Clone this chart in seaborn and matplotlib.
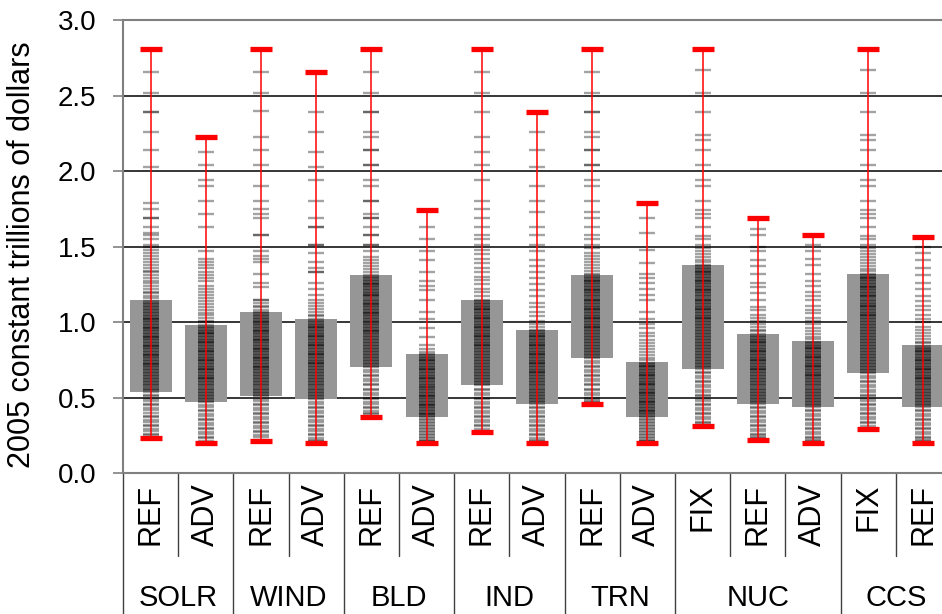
import numpy as np
import pandas as pd
import matplotlib
matplotlib.use("Agg")
import matplotlib.pyplot as plt
import matplotlib.transforms as mtransforms
import seaborn as sns

# ---------------- data ----------------
scenarios = ["REF", "ADV", "REF", "ADV", "REF", "ADV", "REF", "ADV", "REF", "ADV",
             "FIX", "REF", "ADV", "FIX", "REF"]
groups = ["SOLR", "SOLR", "WIND", "WIND", "BLD", "BLD", "IND", "IND", "TRN", "TRN",
          "NUC", "NUC", "NUC", "CCS", "CCS"]
q1 = [0.54, 0.47, 0.51, 0.49, 0.70, 0.37, 0.58, 0.46, 0.76, 0.37, 0.69, 0.46, 0.435, 0.66, 0.435]
q3 = [1.15, 0.98, 1.07, 1.02, 1.31, 0.79, 1.15, 0.95, 1.31, 0.735, 1.38, 0.92, 0.875, 1.32, 0.846]
mins = [0.23, 0.20, 0.21, 0.20, 0.37, 0.20, 0.27, 0.20, 0.46, 0.20, 0.31, 0.22, 0.20, 0.29, 0.20]
maxs = [2.81, 2.225, 2.81, 2.66, 2.81, 1.745, 2.81, 2.39, 2.81, 1.79, 2.81, 1.69, 1.575, 2.81, 1.567]

solr_ref = [2.66, 2.52, 2.39, 2.39, 2.26, 2.14, 2.03, 1.79, 1.75, 1.69, 1.69, 1.63, 1.59, 1.58, 1.55, 1.51, 1.50, 1.48,
            1.46, 1.44, 1.42, 1.40, 1.38, 1.36, 1.34, 1.33, 1.31, 1.29, 1.27, 1.26, 1.24, 1.22, 1.20, 1.19, 1.17, 1.16,
            1.14, 1.13, 1.12, 1.11, 1.10, 1.09, 1.08, 1.07, 1.06, 1.05, 1.04, 1.03, 1.02, 1.02, 1.01, 1.00, 0.99, 0.98,
            0.97, 0.96, 0.96, 0.95, 0.94, 0.93, 0.92, 0.91, 0.90, 0.90, 0.89, 0.88, 0.87, 0.86, 0.85, 0.84, 0.84, 0.83,
            0.82, 0.81, 0.80, 0.79, 0.78, 0.78, 0.77, 0.76, 0.75, 0.74, 0.73, 0.72, 0.72, 0.71, 0.70, 0.69, 0.68, 0.67,
            0.66, 0.65, 0.64, 0.63, 0.62, 0.61, 0.60, 0.59, 0.58, 0.57, 0.56, 0.55, 0.54, 0.52, 0.51, 0.49, 0.48, 0.46,
            0.45, 0.43, 0.42, 0.40, 0.38, 0.37, 0.35, 0.34, 0.32, 0.31, 0.29, 0.28, 0.26, 0.25]
solr_adv = [2.13, 2.04, 1.94, 1.90, 1.80, 1.72, 1.63, 1.47, 1.42, 1.40, 1.38, 1.36, 1.33, 1.31, 1.29, 1.27, 1.24, 1.22,
            1.20, 1.18, 1.16, 1.14, 1.12, 1.10, 1.08, 1.06, 1.05, 1.03, 1.01, 1.00,
            0.98, 0.97, 0.96, 0.95, 0.94, 0.93, 0.93, 0.92, 0.91, 0.90, 0.89, 0.88, 0.87, 0.87, 0.86, 0.85, 0.84, 0.83,
            0.82, 0.81, 0.81, 0.80, 0.79, 0.78, 0.77, 0.76, 0.75, 0.75, 0.74, 0.73, 0.72, 0.71, 0.70, 0.69, 0.69, 0.68,
            0.67, 0.66, 0.65, 0.64, 0.63, 0.63, 0.62, 0.61, 0.60, 0.59, 0.58, 0.57, 0.56, 0.55, 0.54, 0.53, 0.52, 0.51,
            0.50, 0.49, 0.48, 0.47,
            0.45, 0.44, 0.42, 0.41, 0.39, 0.38, 0.36, 0.35, 0.33, 0.32, 0.30, 0.29, 0.27, 0.26, 0.24, 0.23, 0.21]
wind_ref = [2.66, 2.52, 2.40, 2.23, 2.14, 2.04, 1.90, 1.80, 1.75, 1.72, 1.69, 1.58, 1.58, 1.47, 1.44, 1.42, 1.40, 1.32,
            1.26, 1.23, 1.15, 1.15, 1.13, 1.11, 1.10, 1.08,
            1.07, 1.06, 1.05, 1.04, 1.03, 1.02, 1.01, 1.00, 1.00, 0.99, 0.98, 0.97, 0.96, 0.95, 0.94, 0.94, 0.93, 0.92,
            0.91, 0.90, 0.89, 0.88, 0.88, 0.87, 0.86, 0.85, 0.84, 0.83, 0.82, 0.82, 0.81, 0.80, 0.79, 0.78, 0.77, 0.76,
            0.76, 0.75, 0.74, 0.73, 0.72, 0.71, 0.70, 0.70, 0.69, 0.68, 0.67, 0.66, 0.65, 0.64, 0.63, 0.62, 0.61, 0.60,
            0.59, 0.58, 0.57, 0.56, 0.55, 0.54, 0.53, 0.52, 0.51,
            0.49, 0.48, 0.46, 0.45, 0.43, 0.42, 0.40, 0.39, 0.37, 0.36, 0.34, 0.33, 0.31, 0.30, 0.28, 0.27, 0.25, 0.24, 0.22]
wind_adv = [2.39, 2.26, 2.13, 2.03, 1.94, 1.80, 1.69, 1.63, 1.63, 1.51, 1.51, 1.46, 1.40, 1.36, 1.33, 1.33, 1.26, 1.22,
            1.18, 1.15, 1.13, 1.11, 1.09, 1.07, 1.05, 1.04,
            1.02, 1.01, 1.00, 0.99, 0.98, 0.97, 0.97, 0.96, 0.95, 0.94, 0.93, 0.92, 0.91, 0.91, 0.90, 0.89, 0.88, 0.87,
            0.86, 0.85, 0.85, 0.84, 0.83, 0.82, 0.81, 0.80, 0.79, 0.79, 0.78, 0.77, 0.76, 0.75, 0.74, 0.73, 0.73, 0.72,
            0.71, 0.70, 0.69, 0.68, 0.67, 0.66, 0.65, 0.64, 0.63, 0.62, 0.61, 0.60, 0.59, 0.58, 0.57, 0.56, 0.55, 0.54,
            0.53, 0.52, 0.51, 0.50, 0.49,
            0.47, 0.46, 0.44, 0.43, 0.41, 0.40, 0.38, 0.37, 0.35, 0.34, 0.32, 0.31, 0.29, 0.28, 0.26, 0.25, 0.23, 0.22, 0.21]
bld_ref = [2.66, 2.52, 2.39, 2.39, 2.26, 2.23, 2.14, 2.14, 2.04, 2.04, 1.94, 1.90, 1.80, 1.80, 1.72, 1.69, 1.69, 1.63,
           1.58, 1.58, 1.51, 1.51, 1.47, 1.43, 1.41, 1.39, 1.37, 1.35, 1.33,
           1.31, 1.30, 1.29, 1.28, 1.27, 1.26, 1.25, 1.25, 1.24, 1.23, 1.22, 1.21, 1.20, 1.19, 1.18, 1.18, 1.17, 1.16,
           1.15, 1.14, 1.13, 1.12, 1.12, 1.11, 1.10, 1.09, 1.08, 1.07, 1.06, 1.06, 1.05, 1.04, 1.03, 1.02, 1.01, 1.00,
           1.00, 0.99, 0.98, 0.97, 0.96, 0.95, 0.94, 0.94, 0.93, 0.92, 0.91, 0.90, 0.89, 0.88, 0.87, 0.86, 0.85, 0.84,
           0.83, 0.82, 0.81, 0.80, 0.79, 0.78, 0.77, 0.76, 0.75, 0.74, 0.73, 0.72, 0.71, 0.70,
           0.68, 0.67, 0.65, 0.64, 0.62, 0.61, 0.59, 0.58, 0.56, 0.55, 0.53, 0.52, 0.50, 0.49, 0.47, 0.46, 0.44, 0.43,
           0.41, 0.40, 0.39]
bld_adv = [1.63, 1.55, 1.47, 1.41, 1.33, 1.27, 1.24, 1.21, 1.15, 1.07, 1.02, 0.96, 0.90, 0.85, 0.82, 0.80,
           0.79, 0.78, 0.77, 0.76, 0.75, 0.75, 0.74, 0.73, 0.72, 0.71, 0.70, 0.69, 0.69, 0.68, 0.67, 0.66, 0.65, 0.64,
           0.63, 0.63, 0.62, 0.61, 0.60, 0.59, 0.58, 0.57, 0.57, 0.56, 0.55, 0.54, 0.53, 0.52, 0.51, 0.51, 0.50, 0.49,
           0.48, 0.47, 0.46, 0.45, 0.45, 0.44, 0.43, 0.42, 0.41, 0.40, 0.39, 0.39, 0.38, 0.37,
           0.36, 0.35, 0.34, 0.33, 0.32, 0.31, 0.30, 0.29, 0.28, 0.27, 0.26, 0.25, 0.24, 0.23, 0.22, 0.21, 0.21]
ind_ref = [2.66, 2.52, 2.39, 2.23, 2.13, 2.04, 1.94, 1.80, 1.75, 1.69, 1.63, 1.58, 1.55, 1.51, 1.48, 1.45, 1.42, 1.39,
           1.36, 1.33, 1.30, 1.28, 1.25, 1.22, 1.20, 1.17,
           1.15, 1.14, 1.13, 1.12, 1.11, 1.10, 1.09, 1.09, 1.08, 1.07, 1.06, 1.05, 1.04, 1.03, 1.03, 1.02, 1.01, 1.00,
           0.99, 0.98, 0.97, 0.97, 0.96, 0.95, 0.94, 0.93, 0.92, 0.91, 0.91, 0.90, 0.89, 0.88, 0.87, 0.86, 0.85, 0.85,
           0.84, 0.83, 0.82, 0.81, 0.80, 0.79, 0.78, 0.77, 0.76, 0.75, 0.74, 0.73, 0.72, 0.71, 0.70, 0.69, 0.68, 0.67,
           0.66, 0.65, 0.64, 0.63, 0.62, 0.61, 0.60, 0.59, 0.58,
           0.56, 0.55, 0.53, 0.52, 0.50, 0.49, 0.47, 0.46, 0.44, 0.43, 0.41, 0.40, 0.38, 0.37, 0.35, 0.34, 0.32, 0.31,
           0.29, 0.28]
ind_adv = [2.26, 2.14, 2.03, 1.90, 1.80, 1.73, 1.63, 1.58, 1.51, 1.47, 1.41, 1.37, 1.33, 1.29, 1.25, 1.21, 1.17, 1.13,
           1.10, 1.07, 1.04, 1.01, 0.99, 0.97,
           0.95, 0.94, 0.93, 0.92, 0.91, 0.91, 0.90, 0.89, 0.88, 0.87, 0.86, 0.85, 0.85, 0.84, 0.83, 0.82, 0.81, 0.80,
           0.79, 0.79, 0.78, 0.77, 0.76, 0.75, 0.74, 0.73, 0.73, 0.72, 0.71, 0.70, 0.69, 0.68, 0.67, 0.67, 0.66, 0.65,
           0.64, 0.63, 0.62, 0.61, 0.60, 0.59, 0.58, 0.57, 0.56, 0.55, 0.54, 0.53, 0.52, 0.51, 0.50, 0.49, 0.48, 0.47,
           0.46,
           0.44, 0.43, 0.41, 0.40, 0.38, 0.37, 0.35, 0.34, 0.32, 0.31, 0.29, 0.28, 0.26, 0.25, 0.23, 0.22, 0.21]
trn_ref = [2.66, 2.52, 2.39, 2.39, 2.26, 2.23, 2.14, 2.14, 2.04, 2.04, 1.94, 1.90, 1.80, 1.73, 1.69, 1.63, 1.58, 1.55,
           1.51, 1.49, 1.46, 1.44, 1.42, 1.40, 1.38, 1.36, 1.34, 1.32,
           1.31, 1.30, 1.29, 1.28, 1.27, 1.27, 1.26, 1.25, 1.24, 1.23, 1.22, 1.21, 1.21, 1.20, 1.19, 1.18, 1.17, 1.16,
           1.15, 1.15, 1.14, 1.13, 1.12, 1.11, 1.10, 1.09, 1.09, 1.08, 1.07, 1.06, 1.05, 1.04, 1.03, 1.03, 1.02, 1.01,
           1.00, 0.99, 0.98, 0.97, 0.97, 0.96, 0.95, 0.94, 0.93, 0.92, 0.91, 0.90, 0.89, 0.88, 0.87, 0.86, 0.85, 0.84,
           0.83, 0.82, 0.81, 0.80, 0.79, 0.78, 0.77, 0.76,
           0.74, 0.73, 0.71, 0.70, 0.68, 0.67, 0.65, 0.64, 0.62, 0.61, 0.59, 0.58, 0.56, 0.55, 0.53, 0.52, 0.50, 0.49,
           0.48, 0.47]
trn_adv = [1.69, 1.59, 1.48, 1.39, 1.32, 1.29, 1.26, 1.22, 1.18, 1.15, 1.07, 1.02, 0.99, 0.96, 0.93, 0.91, 0.88, 0.86,
           0.84, 0.82, 0.80, 0.78, 0.76, 0.75,
           0.73, 0.72, 0.71, 0.71, 0.70, 0.69, 0.68, 0.67, 0.66, 0.65, 0.65, 0.64, 0.63, 0.62, 0.61, 0.60, 0.59, 0.59,
           0.58, 0.57, 0.56, 0.55, 0.54, 0.53, 0.53, 0.52, 0.51, 0.50, 0.49, 0.48, 0.47, 0.47, 0.46, 0.45, 0.44, 0.43,
           0.42, 0.41, 0.41, 0.40, 0.39, 0.38, 0.37,
           0.36, 0.35, 0.34, 0.33, 0.32, 0.31, 0.30, 0.29, 0.28, 0.27, 0.26, 0.25, 0.24, 0.23, 0.22, 0.21, 0.21]
nuc_fix = [2.67, 2.52, 2.39, 2.24, 2.21, 2.14, 2.04, 1.94, 1.90, 1.80, 1.74, 1.72, 1.69, 1.63, 1.57, 1.55, 1.51, 1.49,
           1.47, 1.45, 1.43, 1.41, 1.40,
           1.38, 1.37, 1.36, 1.35, 1.34, 1.33, 1.33, 1.32, 1.31, 1.30, 1.29, 1.28, 1.27, 1.27, 1.26, 1.25, 1.24, 1.23,
           1.22, 1.21, 1.21, 1.20, 1.19, 1.18, 1.17, 1.16, 1.15, 1.15, 1.14, 1.13, 1.12, 1.11, 1.10, 1.09, 1.09, 1.08,
           1.07, 1.06, 1.05, 1.04, 1.03, 1.03, 1.02, 1.01, 1.00, 0.99, 0.98, 0.97, 0.96, 0.95, 0.94, 0.93, 0.92, 0.91,
           0.90, 0.89, 0.88, 0.87, 0.86, 0.85, 0.84, 0.83, 0.82, 0.81, 0.80, 0.79, 0.78, 0.77, 0.76, 0.75, 0.74, 0.73,
           0.72, 0.71, 0.70, 0.69,
           0.67, 0.66, 0.64, 0.63, 0.61, 0.60, 0.58, 0.57, 0.55, 0.54, 0.52, 0.51, 0.49, 0.48, 0.46, 0.45, 0.43, 0.42,
           0.40, 0.39, 0.37, 0.36, 0.34, 0.33, 0.32]
nuc_ref = [1.62, 1.58, 1.50, 1.47, 1.41, 1.37, 1.32, 1.26, 1.23, 1.19, 1.15, 1.10, 1.08, 1.05, 1.03, 1.01, 0.99, 0.97,
           0.95, 0.94,
           0.92, 0.91, 0.90, 0.89, 0.88, 0.87, 0.87, 0.86, 0.85, 0.84, 0.83, 0.82, 0.81, 0.81, 0.80, 0.79, 0.78, 0.77,
           0.76, 0.75, 0.75, 0.74, 0.73, 0.72, 0.71, 0.70, 0.69, 0.69, 0.68, 0.67, 0.66, 0.65, 0.64, 0.63, 0.62, 0.61,
           0.60, 0.59, 0.58, 0.57, 0.56, 0.55, 0.54, 0.53, 0.52, 0.51, 0.50, 0.49, 0.48, 0.47, 0.46,
           0.44, 0.43, 0.41, 0.40, 0.38, 0.37, 0.35, 0.34, 0.32, 0.31, 0.29, 0.28, 0.26, 0.25, 0.24, 0.23]
nuc_adv = [1.51, 1.47, 1.42, 1.38, 1.32, 1.27, 1.24, 1.20, 1.17, 1.15, 1.11, 1.08, 1.06, 1.03, 1.01, 0.99, 0.96, 0.94,
           0.92, 0.90, 0.89,
           0.87, 0.86, 0.85, 0.84, 0.83, 0.83, 0.82, 0.81, 0.80, 0.79, 0.78, 0.77, 0.77, 0.76, 0.75, 0.74, 0.73, 0.72,
           0.71, 0.71, 0.70, 0.69, 0.68, 0.67, 0.66, 0.65, 0.65, 0.64, 0.63, 0.62, 0.61, 0.60, 0.59, 0.58, 0.57, 0.56,
           0.55, 0.54, 0.53, 0.52, 0.51, 0.50, 0.49, 0.48, 0.47, 0.46, 0.45, 0.44,
           0.42, 0.41, 0.39, 0.38, 0.36, 0.35, 0.33, 0.32, 0.30, 0.29, 0.27, 0.26, 0.24, 0.23, 0.22, 0.21]
ccs_fix = [2.67, 2.52, 2.39, 2.24, 2.21, 2.14, 2.04, 1.94, 1.90, 1.80, 1.74, 1.72, 1.69, 1.63, 1.57, 1.55, 1.51, 1.49,
           1.47, 1.45, 1.43, 1.41, 1.39, 1.37, 1.35, 1.34,
           1.32, 1.31, 1.30, 1.29, 1.29, 1.28, 1.27, 1.26, 1.25, 1.24, 1.23, 1.23, 1.22, 1.21, 1.20, 1.19, 1.18, 1.17,
           1.17, 1.16, 1.15, 1.14, 1.13, 1.12, 1.11, 1.11, 1.10, 1.09, 1.08, 1.07, 1.06, 1.05, 1.05, 1.04, 1.03, 1.02,
           1.01, 1.00, 0.99, 0.98, 0.97, 0.96, 0.95, 0.94, 0.93, 0.92, 0.91, 0.90, 0.89, 0.88, 0.87, 0.86, 0.85, 0.84,
           0.83, 0.82, 0.81, 0.80, 0.79, 0.78, 0.77, 0.76, 0.75, 0.74, 0.73, 0.72, 0.71, 0.70, 0.69, 0.68, 0.67, 0.66,
           0.64, 0.63, 0.61, 0.60, 0.58, 0.57, 0.55, 0.54, 0.52, 0.51, 0.49, 0.48, 0.46, 0.45, 0.43, 0.42, 0.40, 0.39,
           0.37, 0.36, 0.34, 0.33, 0.31, 0.30]
ccs_ref = [1.50, 1.46, 1.41, 1.36, 1.31, 1.26, 1.22, 1.17, 1.14, 1.11, 1.08, 1.05, 1.02, 1.00, 0.97, 0.95, 0.93, 0.91,
           0.89, 0.87, 0.86,
           0.84, 0.83, 0.82, 0.81, 0.81, 0.80, 0.79, 0.78, 0.77, 0.76, 0.75, 0.75, 0.74, 0.73, 0.72, 0.71, 0.70, 0.69,
           0.69, 0.68, 0.67, 0.66, 0.65, 0.64, 0.63, 0.63, 0.62, 0.61, 0.60, 0.59, 0.58, 0.57, 0.56, 0.55, 0.54, 0.53,
           0.52, 0.51, 0.50, 0.49, 0.48, 0.47, 0.46, 0.45, 0.44,
           0.42, 0.41, 0.39, 0.38, 0.36, 0.35, 0.33, 0.32, 0.30, 0.29, 0.27, 0.26, 0.24, 0.23, 0.22, 0.21]

draws = [solr_ref, solr_adv, wind_ref, wind_adv, bld_ref, bld_adv, ind_ref, ind_adv,
         trn_ref, trn_adv, nuc_fix, nuc_ref, nuc_adv, ccs_fix, ccs_ref]
yticks = [0.0, 0.5, 1.0, 1.5, 2.0, 2.5, 3.0]
ylabel = "2005 constant trillions of dollars"

# ---------------- style ----------------
sns.set_style("white")
plt.rcParams["font.family"] = ["Liberation Sans", "DejaVu Sans"]
plt.rcParams["text.color"] = "black"
plt.rcParams["ytick.color"] = "black"

W, H = 942, 614
fig = plt.figure(figsize=(W / 100, H / 100), dpi=100)
ax_left, ax_bottom, ax_w, ax_h = 123, 141, 828, 452.6
ax = fig.add_axes([ax_left / W, ax_bottom / H, ax_w / W, ax_h / H])

n = len(scenarios)
pos = np.arange(n)

# IQR boxes
ax.bar(pos, np.array(q3) - np.array(q1), bottom=q1, width=0.76, color="#969696",
       edgecolor="none", zorder=1)

# individual draws as dashes
df = pd.DataFrame({
    "pos": np.concatenate([[i] * len(d) for i, d in enumerate(draws)]),
    "value": np.concatenate(draws),
})
sns.scatterplot(data=df, x="pos", y="value", marker="_", s=135, color="black",
                alpha=0.36, linewidth=1.7, ax=ax, legend=False, zorder=2)

# red range lines and caps
ax.vlines(pos, mins, maxs, color="#ff0000", lw=1.1, zorder=3)
ax.hlines(mins, pos - 0.2, pos + 0.2, color="#ff0000", lw=3.8, zorder=4)
ax.hlines(maxs, pos - 0.2, pos + 0.2, color="#ff0000", lw=3.8, zorder=4)

# grid
for yv in yticks[1:-1]:
    ax.axhline(yv, color="#000000", lw=1.1, zorder=0.5)

ax.set_xlim(-0.5, n - 0.5)
ax.set_ylim(0, 3.0)
ax.set_yticks(yticks)
ax.set_yticklabels([f"{v:.1f}" for v in yticks])
ax.set_xticks([])
ax.set_xlabel("")
ax.set_ylabel("")
ax.tick_params(axis="y", length=7, width=1.2, color="#808080", labelcolor="black",
               labelsize=20, pad=12, direction="out", left=True)
for side in ["left", "bottom", "top"]:
    ax.spines[side].set_color("#808080")
    ax.spines[side].set_linewidth(1.5)
ax.spines["right"].set_visible(False)

fig.text(22 / W, 1 - 255 / H, ylabel, rotation=90, ha="center", va="center",
         fontsize=22, color="black")

# category label table below axis
trans = mtransforms.blended_transform_factory(ax.transData, ax.transAxes)
sub_bottom = -(556 - 473.3) / ax_h
grp_bottom = -(H - 473.3 + 5) / ax_h
for i, s in enumerate(scenarios):
    ax.text(i, -(484 - 473.3) / ax_h, s, transform=trans, rotation=90, ha="center", va="top",
            fontsize=22, color="black", clip_on=False)

# group boundaries
bounds = [0]
for i in range(1, n):
    if groups[i] != groups[i - 1]:
        bounds.append(i)
bounds.append(n)
for k in range(n + 1):
    x = k - 0.5
    ybot = grp_bottom if k in bounds else sub_bottom
    ax.plot([x, x], [0, ybot], transform=trans, clip_on=False, color="#404040", lw=1.0)
for a, b in zip(bounds[:-1], bounds[1:]):
    ax.text((a + b - 1) / 2, -(598 - 473.3) / ax_h, groups[a], transform=trans,
            ha="center", va="center", fontsize=21, color="black", clip_on=False)

fig.savefig("out.png", dpi=100)
